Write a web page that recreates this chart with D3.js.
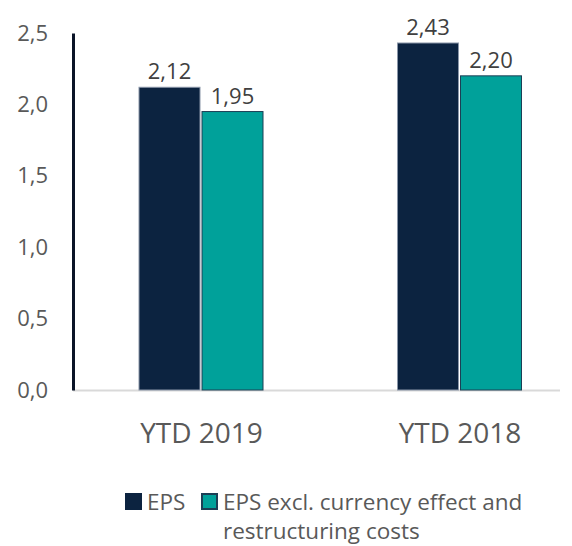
<!DOCTYPE html>
<html><head><meta charset="utf-8">
<script src="https://cdn.jsdelivr.net/npm/d3@7"></script>
<style>body{margin:0;background:#fff}</style>
</head><body>
<svg id="c" width="572" height="546"></svg>
<script>
const categories = ["YTD 2019", "YTD 2018"];
const seriesNames = ["EPS", "EPS excl. currency effect and restructuring costs"];
const eps = [2.12, 2.43];
const epsExcl = [1.95, 2.20];
const yTicks = [0, 0.5, 1.0, 1.5, 2.0, 2.5];
const colors = ["#0c2340", "#00a19a"];
const strokes = ["#8a96a8", "#1c3f55"];

const svg = d3.select("#c");
const font = "'Open Sans', sans-serif";
const textColor = "#595959";
const y = d3.scaleLinear().domain([0, 2.5]).range([390, 33]);
const fmt = d => d3.format(".1f")(d).replace(".", ",");
const fmt2 = d => d3.format(".2f")(d).replace(".", ",");

// baseline gridline
svg.append("line").attr("x1", 73).attr("x2", 560).attr("y1", y(0) + 0.5).attr("y2", y(0) + 0.5)
  .attr("stroke", "#d9d9d9").attr("stroke-width", 2);

// y axis
const yAxis = d3.axisLeft(y).tickValues(yTicks).tickFormat(fmt).tickSize(0).tickPadding(25);
const gy = svg.append("g").attr("transform", "translate(73,0)").call(yAxis);
gy.select(".domain").attr("stroke", "#0a1428").attr("stroke-width", 3);
gy.selectAll("text").attr("font-family", font).attr("font-size", 22).attr("fill", textColor);

const series = [eps, epsExcl];
const barW = 61, gap = 2;
const xc = d3.scalePoint().domain(categories).range([201, 459.5]);

categories.forEach((cat, i) => {
  series.forEach((s, j) => {
    const bx = j === 0 ? xc(cat) - gap / 2 - barW : xc(cat) + gap / 2;
    svg.append("rect").attr("x", bx).attr("y", y(s[i])).attr("width", barW)
      .attr("height", y(0) - y(s[i])).attr("fill", colors[j])
      .attr("stroke", strokes[j]).attr("stroke-width", 1);
    svg.append("text").attr("x", bx + barW / 2).attr("y", y(s[i]) - 8)
      .attr("text-anchor", "middle").attr("font-family", font).attr("font-size", 22)
      .attr("fill", "#404040").text(fmt2(s[i]));
  });
});

// x axis labels
const xAxis = d3.axisBottom(xc).tickSize(0).tickPadding(53);
const gx = svg.append("g").attr("transform", `translate(0,${y(0)})`).call(xAxis);
gx.select(".domain").remove();
gx.selectAll("text").attr("dy", 0).attr("font-family", font).attr("font-size", 28).attr("fill", textColor);

// legend
const lg = svg.append("g");
lg.append("rect").attr("x", 125).attr("y", 493).attr("width", 17).attr("height", 17).attr("fill", colors[0]);
lg.append("text").attr("x", 147).attr("y", 510).attr("font-family", font).attr("font-size", 22.5)
  .attr("fill", textColor).text(seriesNames[0]);
lg.append("rect").attr("x", 202).attr("y", 494).attr("width", 15).attr("height", 15).attr("fill", colors[1])
  .attr("stroke", strokes[1]).attr("stroke-width", 2);
const t2 = lg.append("text").attr("font-family", font).attr("font-size", 22.5).attr("fill", textColor);
t2.append("tspan").attr("x", 223).attr("y", 510).text("EPS excl. currency effect and");
t2.append("tspan").attr("x", 223).attr("y", 539).text("restructuring costs");
</script>
</body></html>
